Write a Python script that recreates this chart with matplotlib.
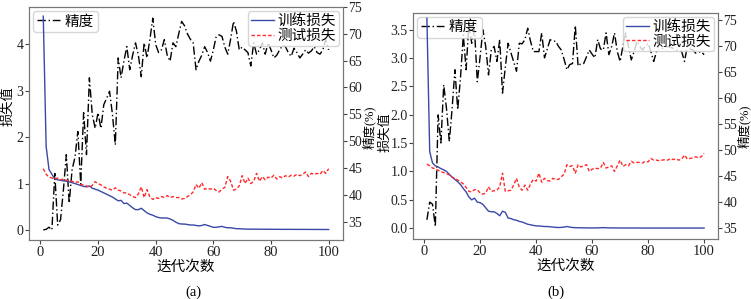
import numpy as np
import matplotlib
matplotlib.use("Agg")
import matplotlib.pyplot as plt

plt.rcParams['font.family'] = ['Liberation Serif', 'Noto Sans CJK SC', 'DejaVu Sans']
plt.rcParams['font.size'] = 10
plt.rcParams['axes.unicode_minus'] = False

epochs = list(range(1, 101))

train_loss_a = [4.6, 1.8, 1.3, 1.2, 1.1, 1.08, 1.07, 1.06, 1.05, 1.04,
                1.02, 1.0, 0.98, 0.96, 0.94, 0.93, 0.95, 0.9, 0.88, 0.86,
                0.83, 0.8, 0.77, 0.74, 0.71, 0.67, 0.63, 0.64, 0.57, 0.58,
                0.53, 0.48, 0.44, 0.44, 0.47, 0.42, 0.37, 0.34, 0.32, 0.29,
                0.27, 0.26, 0.26, 0.26, 0.24, 0.21, 0.17, 0.14, 0.13, 0.13,
                0.12, 0.11, 0.11, 0.1, 0.09, 0.1, 0.12, 0.1, 0.08, 0.06,
                0.06, 0.07, 0.08, 0.06, 0.05, 0.05, 0.04, 0.03, 0.03, 0.025,
                0.022, 0.021, 0.02, 0.02, 0.02, 0.019, 0.019, 0.018, 0.018, 0.018,
                0.017, 0.017, 0.017, 0.016, 0.016, 0.016, 0.016, 0.015, 0.015, 0.015,
                0.015, 0.015, 0.014, 0.014, 0.014, 0.014, 0.014, 0.013, 0.013, 0.013]

test_loss_a = [1.32, 1.2, 1.14, 1.12, 1.1, 1.12, 1.08, 1.1, 1.07, 1.06,
               1.05, 1.02, 1.04, 0.98, 0.97, 0.95, 0.92, 0.96, 1.04, 1.0,
               0.97, 0.93, 0.9, 0.88, 0.86, 0.91, 0.86, 0.84, 0.8, 0.8,
               0.76, 0.72, 0.7, 0.78, 0.93, 0.7, 0.87, 0.71, 0.66, 0.7,
               0.68, 0.72, 0.7, 0.74, 0.7, 0.72, 0.7, 0.7, 0.67, 0.68,
               0.72, 0.76, 0.82, 0.98, 0.9, 1.02, 0.88, 0.9, 0.88, 0.9,
               0.85, 0.82, 0.88, 0.92, 1.15, 1.05, 0.86, 0.88, 0.95, 1.17,
               1.0, 1.12, 1.0, 1.05, 1.22, 1.05, 1.15, 1.08, 1.14, 1.12,
               1.18, 1.1, 1.15, 1.12, 1.17, 1.14, 1.18, 1.16, 1.2, 1.17,
               1.2, 1.25, 1.15, 1.22, 1.2, 1.22, 1.2, 1.28, 1.22, 1.32]

acc_a = [33.5, 33.6, 34.0, 33.5, 44.0, 34.4, 35.4, 41.0, 47.5, 38.5,
         44.7, 47.0, 51.8, 42.0, 55.3, 47.5, 61.8, 55.0, 52.4, 55.3,
         52.4, 56.8, 58.0, 59.3, 55.0, 49.3, 65.5, 61.8, 65.0, 67.6,
         63.3, 66.0, 68.3, 66.0, 62.0, 68.3, 65.5, 69.0, 72.9, 68.0,
         66.5, 67.0, 68.9, 66.0, 64.9, 68.3, 67.6, 70.0, 72.3, 71.5,
         70.0, 69.0, 68.3, 63.3, 64.9, 66.0, 67.6, 66.5, 64.9, 67.0,
         69.5, 69.8, 69.5, 67.5, 66.2, 69.0, 72.3, 70.5, 67.0, 67.5,
         67.0, 66.5, 64.0, 68.3, 66.2, 67.0, 68.3, 66.2, 68.3, 67.0,
         65.5, 66.0, 67.0, 67.8, 67.6, 66.5, 65.8, 67.3, 66.5, 65.5,
         66.2, 67.0, 66.4, 66.8, 67.6, 66.5, 66.2, 67.0, 68.9, 67.0]

train_loss_b = [3.7, 1.35, 1.15, 1.1, 1.08, 1.05, 1.03, 1.0, 0.95, 0.9,
                0.86, 0.82, 0.77, 0.7, 0.64, 0.55, 0.5, 0.53, 0.46, 0.45,
                0.42, 0.36, 0.3, 0.29, 0.29, 0.26, 0.22, 0.3, 0.28, 0.18,
                0.17, 0.15, 0.14, 0.12, 0.11, 0.09, 0.07, 0.06, 0.05, 0.04,
                0.04, 0.035, 0.03, 0.03, 0.025, 0.02, 0.015, 0.012, 0.015, 0.02,
                0.03, 0.02, 0.012, 0.01, 0.008, 0.007, 0.006, 0.006, 0.005, 0.005,
                0.005, 0.006, 0.008, 0.01, 0.008, 0.006, 0.005, 0.005, 0.005, 0.004,
                0.004, 0.004, 0.004, 0.004, 0.004, 0.004, 0.003, 0.003, 0.003, 0.003,
                0.003, 0.003, 0.003, 0.003, 0.003, 0.003, 0.003, 0.003, 0.003, 0.003,
                0.003, 0.003, 0.003, 0.003, 0.003, 0.003, 0.003, 0.003, 0.003, 0.003]

test_loss_b = [1.13, 1.1, 1.06, 1.05, 1.02, 1.0, 0.98, 0.96, 0.94, 0.9,
               0.88, 0.85, 0.82, 0.78, 0.72, 0.65, 0.64, 0.68, 0.68, 0.62,
               0.6, 0.62, 0.73, 0.65, 0.66, 0.67, 0.73, 0.97, 0.65, 0.66,
               0.67, 0.76, 0.88, 0.72, 0.67, 0.76, 0.67, 0.78, 0.86, 0.83,
               0.97, 0.81, 0.88, 0.84, 0.83, 0.88, 0.86, 0.86, 0.91, 0.95,
               1.12, 1.09, 1.1, 0.97, 1.12, 1.08, 1.1, 1.12, 1.0, 1.04,
               1.06, 1.05, 1.06, 1.16, 1.06, 1.08, 1.1, 1.0, 1.1, 1.2,
               1.09, 1.12, 1.1, 1.18, 1.15, 1.16, 1.16, 1.15, 1.18, 1.17,
               1.23, 1.2, 1.2, 1.19, 1.2, 1.21, 1.2, 1.23, 1.21, 1.22,
               1.2, 1.22, 1.29, 1.22, 1.23, 1.24, 1.26, 1.24, 1.26, 1.32]

acc_b = [36.6, 40.0, 39.6, 35.3, 56.8, 51.4, 62.6, 58.0, 51.7, 58.0,
         65.5, 57.8, 64.0, 72.2, 65.5, 74.5, 70.6, 73.2, 63.2, 68.0,
         73.2, 70.0, 64.5, 69.3, 70.0, 67.1, 71.3, 61.0, 66.0, 70.6,
         68.8, 67.0, 65.2, 70.6, 70.5, 71.3, 73.5, 71.0, 69.0, 69.0,
         69.0, 72.6, 67.8, 69.5, 71.3, 71.0, 71.0, 70.0, 69.3, 67.5,
         65.5, 66.5, 66.7, 74.0, 66.2, 66.7, 66.7, 68.0, 69.3, 68.5,
         67.8, 71.3, 69.5, 69.3, 72.6, 68.4, 70.0, 72.6, 69.0, 67.1,
         70.0, 72.6, 70.0, 67.4, 69.0, 71.0, 70.0, 69.3, 70.0, 70.6,
         69.0, 67.1, 69.0, 70.6, 69.6, 69.8, 70.0, 69.8, 69.6, 69.3,
         69.2, 69.0, 67.1, 70.0, 69.5, 69.3, 68.7, 68.9, 69.0, 68.4]

xlabel = '迭代次数'
ylabel_left = '损失值'
ylabel_right = '精度(%)'
captions = ['(a)', '(b)']

blue = '#3a48a8'
red = '#ff2a2a'
spine_c = '#777777'

fig = plt.figure(figsize=(7.51, 2.99), dpi=100)
axA = fig.add_axes([0.0386, 0.197, 0.418, 0.780])
axB = fig.add_axes([0.550, 0.2007, 0.406, 0.757])

panels = [
    (axA, train_loss_a, test_loss_a, acc_a, (-0.215, 4.8), (31.6, 75.0),
     [0, 1, 2, 3, 4], None, (-0.045, 0.575), (1.062, 0.485)),
    (axB, train_loss_b, test_loss_b, acc_b, (-0.19, 3.8), (32.9, 76.5),
     [0.0, 0.5, 1.0, 1.5, 2.0, 2.5, 3.0, 3.5], '%.1f', (-0.072, 0.47), (1.062, 0.5)),
]

for i, (ax, tr, te, ac, ylim_l, ylim_r, lticks, fmt, lpos, rpos) in enumerate(panels):
    l1, = ax.plot(epochs, tr, color=blue, lw=1.0, label='训练损失')
    l2, = ax.plot(epochs, te, color=red, lw=1.0, ls=(0, (2.5, 1.5)), label='测试损失')
    ax.set_xlim(-3.95, 104.95)
    ax.set_ylim(*ylim_l)
    ax.set_yticks(lticks)
    if fmt:
        ax.set_yticklabels([fmt % v for v in lticks])
    ax.set_xticks([0, 20, 40, 60, 80, 100])
    ax.set_xlabel(xlabel, labelpad=1, fontsize=10.5)
    ax.set_ylabel(ylabel_left, fontsize=9.5)
    ax.yaxis.set_label_coords(*lpos)
    ax2 = ax.twinx()
    l3, = ax2.plot(epochs, ac, color='black', lw=1.0, ls=(0, (6, 2, 1, 2)), label='精度')
    ax2.set_ylim(*ylim_r)
    ax2.set_yticks([35, 40, 45, 50, 55, 60, 65, 70, 75])
    ax2.set_ylabel(ylabel_right, fontsize=9)
    ax2.yaxis.set_label_coords(*rpos)
    for a in (ax, ax2):
        for s in a.spines.values():
            s.set_color(spine_c)
        a.tick_params(colors='#444444', labelcolor='#222222', length=3, pad=1, labelsize=10)
    ax.tick_params(axis='x', labelsize=10.5)
    ax2.legend(handles=[l3], loc='upper left', borderpad=0.25, handlelength=1.6,
               handletextpad=0.3, borderaxespad=0.3, fontsize=10.5)
    ax2.legend_.get_frame().set_edgecolor('#cccccc')
    leg = ax.legend(handles=[l1, l2], loc='upper right', borderpad=0.2, handlelength=1.6,
                    handletextpad=0.2, borderaxespad=0.3, labelspacing=0.1, fontsize=10.5)
    leg.get_frame().set_edgecolor('#cccccc')
    ax.set_zorder(ax2.get_zorder() + 1)
    ax.patch.set_visible(False)

fig.text(0.257, 0.023, captions[0], ha='center', va='center', fontsize=10.5)
fig.text(0.740, 0.023, captions[1], ha='center', va='center', fontsize=10.5)

fig.savefig('out.png', dpi=100)
